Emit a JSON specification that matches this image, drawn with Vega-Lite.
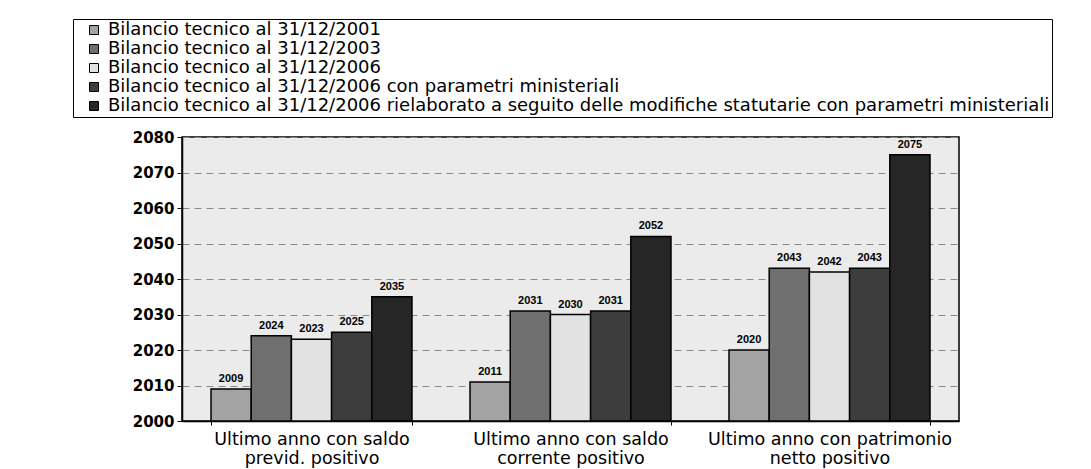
{
  "$schema": "https://vega.github.io/schema/vega-lite/v6.json",
  "width": 777,
  "height": 284,
  "autosize": "none",
  "padding": {"left": 182, "top": 137, "right": 132, "bottom": 48},
  "background": "white",
  "data": {
    "values": [
      {"c": "Ultimo anno con saldo|previd. positivo", "s": "Bilancio tecnico al 31/12/2001", "v": 2009},
      {"c": "Ultimo anno con saldo|previd. positivo", "s": "Bilancio tecnico al 31/12/2003", "v": 2024},
      {"c": "Ultimo anno con saldo|previd. positivo", "s": "Bilancio tecnico al 31/12/2006", "v": 2023},
      {"c": "Ultimo anno con saldo|previd. positivo", "s": "Bilancio tecnico al 31/12/2006 con parametri ministeriali", "v": 2025},
      {"c": "Ultimo anno con saldo|previd. positivo", "s": "Bilancio tecnico al 31/12/2006 rielaborato a seguito delle modifiche statutarie con parametri ministeriali", "v": 2035},
      {"c": "Ultimo anno con saldo|corrente positivo", "s": "Bilancio tecnico al 31/12/2001", "v": 2011},
      {"c": "Ultimo anno con saldo|corrente positivo", "s": "Bilancio tecnico al 31/12/2003", "v": 2031},
      {"c": "Ultimo anno con saldo|corrente positivo", "s": "Bilancio tecnico al 31/12/2006", "v": 2030},
      {"c": "Ultimo anno con saldo|corrente positivo", "s": "Bilancio tecnico al 31/12/2006 con parametri ministeriali", "v": 2031},
      {"c": "Ultimo anno con saldo|corrente positivo", "s": "Bilancio tecnico al 31/12/2006 rielaborato a seguito delle modifiche statutarie con parametri ministeriali", "v": 2052},
      {"c": "Ultimo anno con patrimonio|netto positivo", "s": "Bilancio tecnico al 31/12/2001", "v": 2020},
      {"c": "Ultimo anno con patrimonio|netto positivo", "s": "Bilancio tecnico al 31/12/2003", "v": 2043},
      {"c": "Ultimo anno con patrimonio|netto positivo", "s": "Bilancio tecnico al 31/12/2006", "v": 2042},
      {"c": "Ultimo anno con patrimonio|netto positivo", "s": "Bilancio tecnico al 31/12/2006 con parametri ministeriali", "v": 2043},
      {"c": "Ultimo anno con patrimonio|netto positivo", "s": "Bilancio tecnico al 31/12/2006 rielaborato a seguito delle modifiche statutarie con parametri ministeriali", "v": 2075}
    ]
  },
  "encoding": {
    "x": {
      "field": "c", "type": "nominal", "sort": null,
      "scale": {"paddingInner": 0.224, "paddingOuter": 0.112},
      "axis": {
        "title": null, "labelAngle": 0, "labelExpr": "split(datum.label, '|')",
        "labelFont": "DejaVu Sans", "labelFontSize": 17.5, "labelColor": "black",
        "labelLineHeight": 19, "labelPadding": 5, "labelLimit": 400,
        "tickBand": "extent", "tickSize": 4, "tickColor": "black",
        "domainColor": "black", "domainWidth": 1.5
      }
    },
    "xOffset": {"field": "s", "type": "nominal", "sort": null, "scale": {"paddingInner": 0, "paddingOuter": 0}},
    "y": {
      "field": "v", "type": "quantitative",
      "scale": {"domain": [2000, 2080], "zero": false, "nice": false},
      "axis": {
        "title": null, "values": [2000, 2010, 2020, 2030, 2040, 2050, 2060, 2070, 2080],
        "labelOverlap": false, "tickCount": 20,
        "format": "d", "labelFont": "DejaVu Sans", "labelFontWeight": "bold",
        "labelFontSize": 15, "labelColor": "black", "labelPadding": 3,
        "tickSize": 5, "tickColor": "black", "domainColor": "black", "domainWidth": 1.5,
        "grid": true, "gridColor": "#8a8a8a", "gridDash": [7, 5], "gridWidth": 1
      }
    }
  },
  "layer": [
    {
      "mark": {"type": "bar", "stroke": "black", "strokeWidth": 1.5},
      "encoding": {
        "y2": {"datum": 2000},
        "color": {
          "field": "s", "type": "nominal", "sort": null,
          "scale": {"range": ["#a3a3a3", "#6f6f6f", "#e2e2e2", "#3d3d3d", "#262626"]},
          "legend": {
            "title": null, "orient": "none", "legendX": -109, "legendY": -118,
            "direction": "vertical", "strokeColor": "black", "padding": 2,
            "labelFont": "DejaVu Sans", "labelFontSize": 18, "labelColor": "black",
            "labelLimit": 1200, "rowPadding": 1, "symbolType": "square", "symbolSize": 81,
            "symbolStrokeColor": "black", "symbolStrokeWidth": 1, "symbolOffset": 10,
            "labelOffset": 5
          }
        }
      }
    },
    {
      "mark": {"type": "text", "baseline": "bottom", "dy": -5, "font": "Liberation Sans", "fontWeight": "bold", "fontSize": 11, "color": "black"},
      "encoding": {
        "text": {"field": "v", "type": "quantitative", "format": "d"}
      }
    }
  ],
  "config": {
    "view": {"fill": "#ebebeb", "stroke": "black", "strokeWidth": 1.5}
  }
}
